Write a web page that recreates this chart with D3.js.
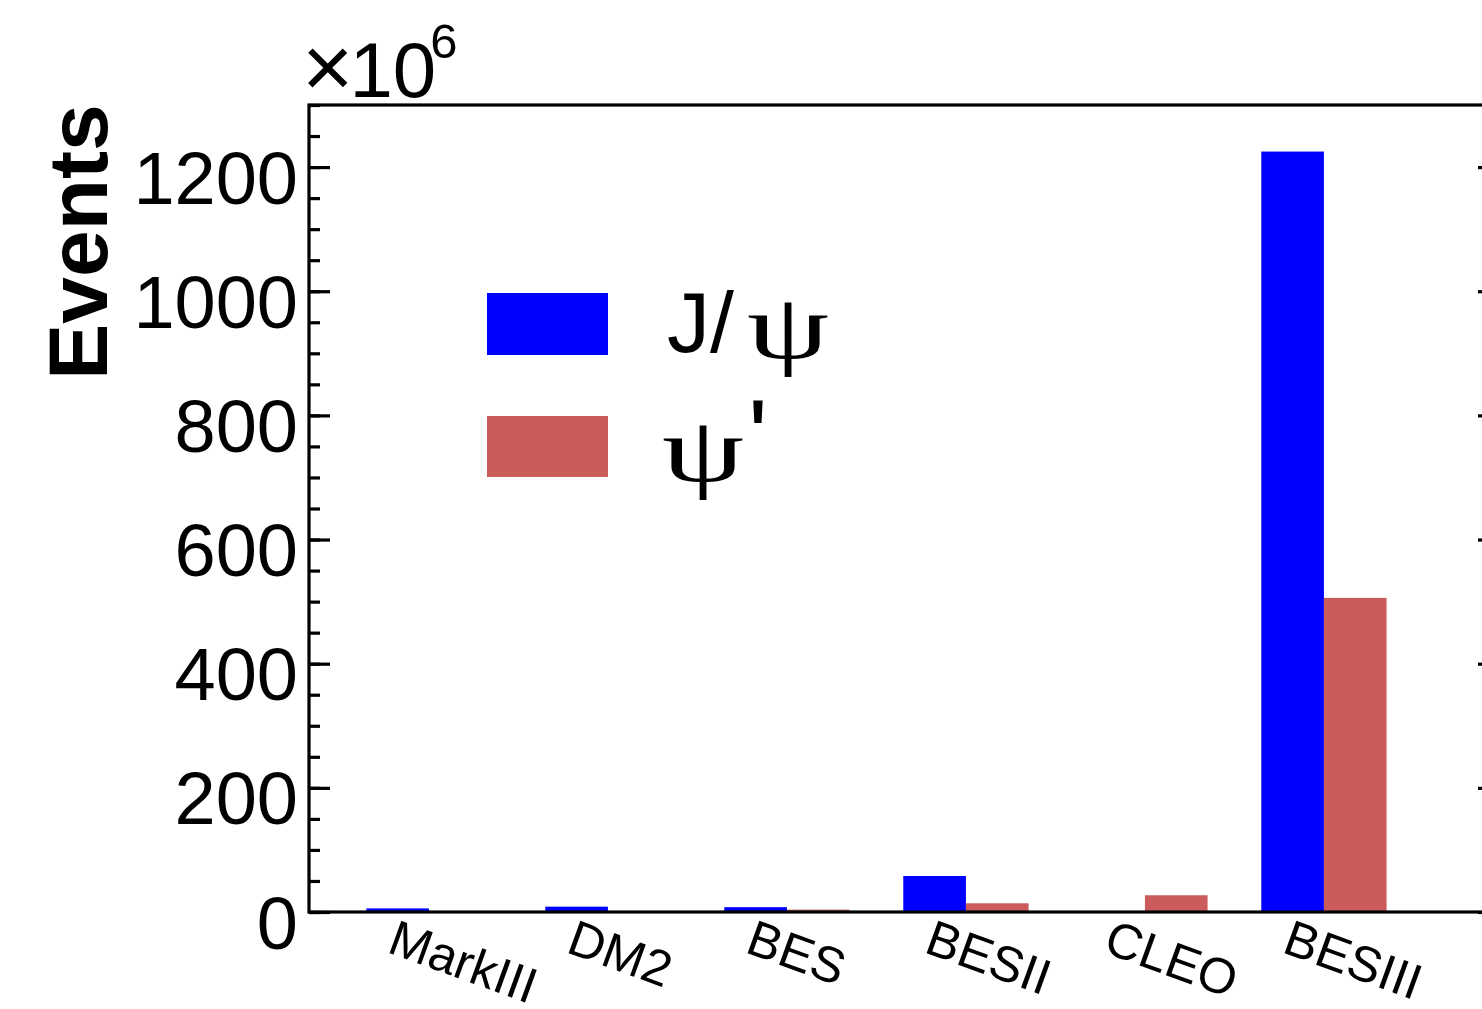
<!DOCTYPE html>
<html>
<head>
<meta charset="utf-8">
<script src="https://cdn.jsdelivr.net/npm/d3@7/dist/d3.min.js"></script>
<style>
  html, body { margin: 0; padding: 0; background: #fff; }
  svg { display: block; }
  text { font-family: "Liberation Sans", Arial, sans-serif; fill: #000; }
</style>
</head>
<body>
<svg id="chart" width="1482" height="1009"></svg>
<script>
// ---- data (millions of events) ----
const categories = ["MarkIII", "DM2", "BES", "BESII", "CLEO", "BESIII"];
const jpsiValues = [5.8, 8.6, 7.8, 58, 0, 1225];
const psipValues = [0, 0, 3.8, 14, 27, 506];
const yMajorTicks = [0, 200, 400, 600, 800, 1000, 1200];
const yMinorTicks = d3.range(0, 1301, 50);
const seriesNames = ["J/ψ", "ψ'"];

(function () {
// ---- layout ----
const mLeft = 309, mTop = 105, mBottom = 912, mRight = 1499;
const binW = 179;

const svg = d3.select("#chart");

const x = d3.scaleLinear().domain([0, categories.length]).range([mLeft, mLeft + binW * categories.length]);
const y = d3.scaleLinear().domain([0, 1300]).range([mBottom, mTop]);

const blue = "#0000ff", red = "#cc5c5c";
const offJ = 0.32, offP = 0.67, bw = 0.35;

// bars
svg.append("g").selectAll("rect").data(jpsiValues).join("rect")
  .attr("x", (d, i) => x(i + offJ))
  .attr("width", (d, i) => x(i + offJ + bw) - x(i + offJ))
  .attr("y", d => y(d))
  .attr("height", d => y(0) - y(d))
  .attr("fill", blue);

svg.append("g").selectAll("rect").data(psipValues).join("rect")
  .attr("x", (d, i) => x(i + offP))
  .attr("width", (d, i) => x(i + offP + bw) - x(i + offP))
  .attr("y", d => y(d))
  .attr("height", d => y(0) - y(d))
  .attr("fill", red);

// left axis ticks
const minorL = svg.append("g").attr("transform", `translate(${mLeft},0)`)
  .call(d3.axisLeft(y).tickValues(yMinorTicks).tickSize(-11).tickFormat(""));
const majorL = svg.append("g").attr("transform", `translate(${mLeft},0)`)
  .call(d3.axisLeft(y).tickValues(yMajorTicks).tickSize(-21).tickPadding(11).tickFormat(d3.format("d")));
majorL.selectAll("text").attr("dy", "36px").attr("fill", "#000")
  .style("font-size", "74px").style("font-family", "Liberation Sans, Arial, sans-serif");

// right axis ticks
const minorR = svg.append("g").attr("transform", `translate(${mRight},0)`)
  .call(d3.axisRight(y).tickValues(yMinorTicks).tickSize(-11).tickFormat(""));
const majorR = svg.append("g").attr("transform", `translate(${mRight},0)`)
  .call(d3.axisRight(y).tickValues(yMajorTicks).tickSize(-21).tickFormat(""));

[minorL, majorL, minorR, majorR].forEach(g => {
  g.select(".domain").remove();
  g.selectAll("line").attr("stroke", "#000").attr("stroke-width", 3.2);
});

// frame
svg.append("rect")
  .attr("x", mLeft).attr("y", mTop)
  .attr("width", mRight - mLeft).attr("height", mBottom - mTop)
  .attr("fill", "none").attr("stroke", "#000").attr("stroke-width", 3.2);

// x category labels (rotated)
svg.append("g").selectAll("text").data(categories).join("text")
  .attr("transform", (d, i) => `translate(${x(i + 0.5)},${mBottom + 5}) rotate(20)`)
  .attr("dy", "0.74em")
  .attr("text-anchor", "start")
  .style("font-size", "50px")
  .text(d => d);

// y title
svg.append("text")
  .attr("transform", `translate(107,242) rotate(-90)`)
  .attr("text-anchor", "middle")
  .style("font-size", "84px")
  .style("font-weight", "bold")
  .text("Events");

// exponent
const ex = svg.append("text").attr("x", 302).attr("y", 97);
ex.append("tspan").style("font-size", "88px").text("×");
ex.append("tspan").attr("dx", -4).style("font-size", "78px").text("10");
ex.append("tspan").attr("dx", -6).attr("dy", -39).style("font-size", "49px").text("6");

// legend
const serif = "Liberation Serif, Times New Roman, serif";
const leg = svg.append("g");
leg.append("rect").attr("x", 487).attr("y", 293).attr("width", 121).attr("height", 62).attr("fill", blue);
leg.append("rect").attr("x", 487).attr("y", 416).attr("width", 121).attr("height", 61).attr("fill", red);
// J/ψ
leg.append("text").attr("x", 667).attr("y", 352).style("font-size", "86px").text(seriesNames[0].slice(0, 2));
leg.append("text").attr("x", 747).attr("y", 358).attr("textLength", 82).attr("lengthAdjust", "spacingAndGlyphs")
  .style("font-family", serif).style("font-size", "92px").text(seriesNames[0].slice(2));
// ψ'
leg.append("text").attr("x", 662).attr("y", 481).attr("textLength", 82).attr("lengthAdjust", "spacingAndGlyphs")
  .style("font-family", serif).style("font-size", "92px").text(seriesNames[1].charAt(0));
leg.append("text").attr("x", 748).attr("y", 472).style("font-size", "104px").text(seriesNames[1].charAt(1));
})();
</script>
</body>
</html>
